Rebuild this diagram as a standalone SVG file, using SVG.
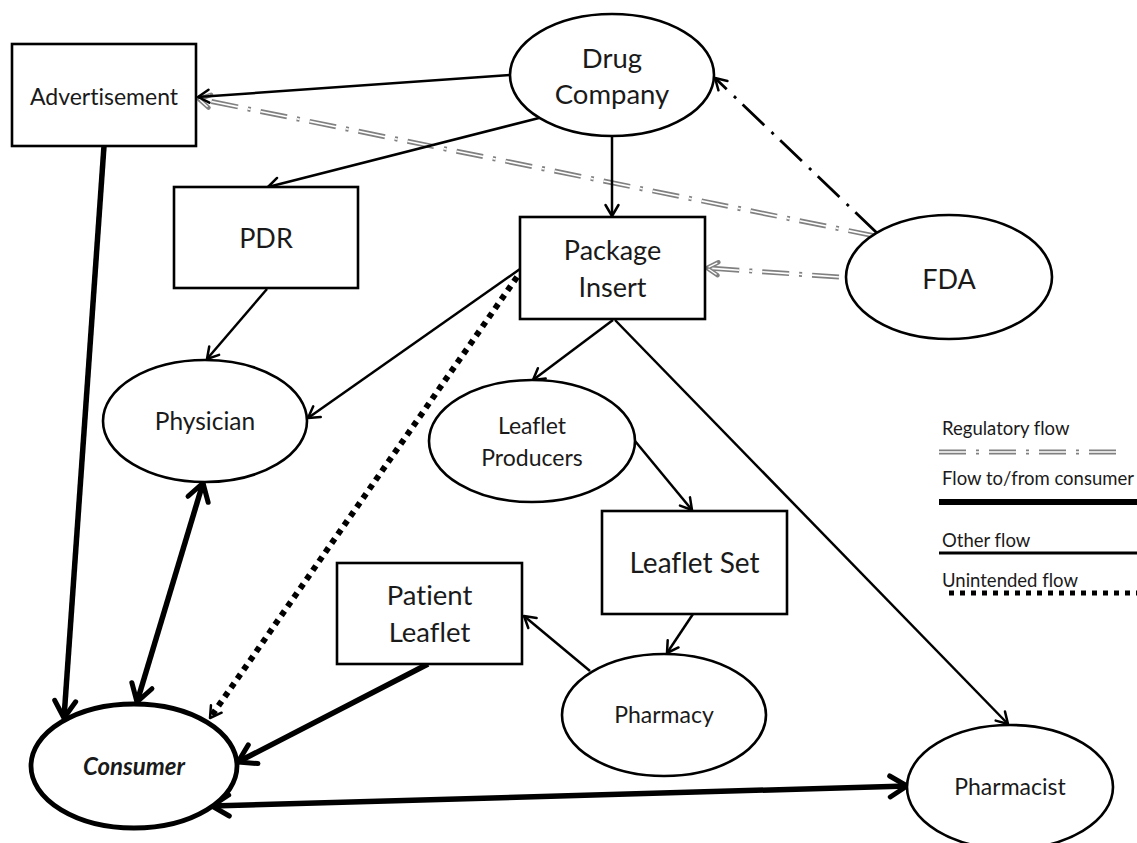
<svg xmlns="http://www.w3.org/2000/svg" width="1137" height="843" viewBox="0 0 1137 843">
<style>
.box{fill:#fff;stroke:#000;stroke-width:2.6}
.ell{fill:#fff;stroke:#000;stroke-width:2.6}
.lbl{font-family:Lato,"Liberation Sans",sans-serif;fill:#1a1a1a;text-anchor:middle;font-variant-ligatures:none}
.leg{font-family:Lato,"Liberation Sans",sans-serif;fill:#1a1a1a;font-size:18.5px;font-variant-ligatures:none}
.thin{fill:none;stroke:#000;stroke-width:2.5;marker-end:url(#ah)}
.thick{fill:none;stroke:#000;stroke-width:5.5;marker-end:url(#ahT)}
.dbl{marker-start:url(#ahT)}
.regO{fill:none;stroke:#808080;stroke-width:5;stroke-dasharray:27 10 3 10}
.regI{fill:none;stroke:#fff;stroke-width:1.6;stroke-dasharray:27 10 3 10}
.dot{fill:none;stroke:#000;stroke-width:6;stroke-dasharray:5.5 5.5}
</style>
<defs>
<marker id="ah" markerUnits="userSpaceOnUse" orient="auto-start-reverse" overflow="visible" markerWidth="1" markerHeight="1" refX="0" refY="0">
<path d="M-11,-6.5 L0,0 L-11,6.5" fill="none" stroke="#000" stroke-width="2.5" stroke-linejoin="round" stroke-linecap="round"/>
</marker>
<marker id="ahT" markerUnits="userSpaceOnUse" orient="auto-start-reverse" overflow="visible" markerWidth="1" markerHeight="1" refX="0" refY="0">
<path d="M-17,-10.5 L0,0 L-17,10.5" fill="none" stroke="#000" stroke-width="5" stroke-linejoin="round" stroke-linecap="round"/>
</marker>
<marker id="ahG" markerUnits="userSpaceOnUse" orient="auto" overflow="visible" markerWidth="1" markerHeight="1" refX="0" refY="0">
<path d="M-11,-6.5 L0,0 L-11,6.5" fill="none" stroke="#808080" stroke-width="4.5" stroke-linejoin="round" stroke-linecap="round"/>
</marker>
<marker id="ahW" markerUnits="userSpaceOnUse" orient="auto" overflow="visible" markerWidth="1" markerHeight="1" refX="0" refY="0">
<path d="M-10,-5.9 L-1.5,-0.9 M-10,5.9 L-1.5,0.9" fill="none" stroke="#fff" stroke-width="1.3"/>
</marker>
</defs>
<rect width="1137" height="843" fill="#fff"/>

<g id="connectors">
<path class="regO" d="M875,236 L199,99" marker-end="url(#ahG)"/>
<path class="regI" d="M875,236 L199,99" marker-end="url(#ahW)"/>
<path class="regO" d="M839,277 L707,268" marker-end="url(#ahG)"/>
<path class="regI" d="M839,277 L707,268" marker-end="url(#ahW)"/>
<path d="M877,233 L715,78" fill="none" stroke="#000" stroke-width="2.8" stroke-dasharray="30 9 3 10" marker-end="url(#ah)"/>
<path class="thin" d="M510,75 L198,97"/>
<path class="thin" d="M539,118 L268,187"/>
<path class="thin" d="M612,137 L612,216"/>
<path class="thin" d="M267,289 L207,359"/>
<path class="thin" d="M520,269 L308,418"/>
<path class="thin" d="M613,320 L533,380"/>
<path class="thin" d="M615,320 L1008,724"/>
<path class="thin" d="M635,441 L692,510"/>
<path class="thin" d="M693,614 L667,653"/>
<path class="thin" d="M590,671 L524,616"/>
<path class="dot" d="M517,277 L210,718" marker-end="url(#ah)"/>
<path class="thick" d="M104,146 L64,718"/>
<path class="thick dbl" d="M203,483 L137,702"/>
<path class="thick" d="M428,664 L238,762"/>
<path class="thick dbl" d="M212,806 L907,786"/>
</g>

<g id="advertisement"><rect class="box" x="12" y="44" width="184" height="102"/><text class="lbl" x="104" y="105" font-size="23">Advertisement</text></g>
<g id="drug-company"><ellipse class="ell" cx="612" cy="75" rx="102" ry="61"/><text class="lbl" x="612" y="68" font-size="27.5">Drug</text><text class="lbl" x="612" y="104" font-size="27.5">Company</text></g>
<g id="pdr"><rect class="box" x="174" y="187" width="184" height="101"/><text class="lbl" x="266" y="248" font-size="27">PDR</text></g>
<g id="package-insert"><rect class="box" x="520" y="217" width="185" height="102"/><text class="lbl" x="612.5" y="260" font-size="27">Package</text><text class="lbl" x="612.5" y="297" font-size="27">Insert</text></g>
<g id="fda"><ellipse class="ell" cx="949" cy="277" rx="103" ry="62"/><text class="lbl" x="949" y="289" font-size="27">FDA</text></g>
<g id="physician"><ellipse class="ell" cx="205" cy="421" rx="102" ry="61"/><text class="lbl" x="205" y="430" font-size="24.5">Physician</text></g>
<g id="leaflet-producers"><ellipse class="ell" cx="532" cy="441" rx="103" ry="61"/><text class="lbl" x="532" y="434" font-size="23">Leaflet</text><text class="lbl" x="532" y="466" font-size="23">Producers</text></g>
<g id="leaflet-set"><rect class="box" x="602" y="511" width="185" height="103"/><text class="lbl" x="694.5" y="573" font-size="28">Leaflet Set</text></g>
<g id="patient-leaflet"><rect class="box" x="337" y="563" width="185" height="101"/><text class="lbl" x="429.5" y="605" font-size="27.5">Patient</text><text class="lbl" x="429.5" y="642" font-size="27.5">Leaflet</text></g>
<g id="pharmacy"><ellipse class="ell" cx="664" cy="715" rx="102" ry="61"/><text class="lbl" x="664" y="723" font-size="23">Pharmacy</text></g>
<g id="pharmacist"><ellipse class="ell" cx="1010" cy="787" rx="103" ry="62"/><text class="lbl" x="1010" y="795" font-size="23">Pharmacist</text></g>
<g id="consumer"><ellipse cx="134" cy="766" rx="103" ry="62" fill="#fff" stroke="#000" stroke-width="4.8"/><text class="lbl" x="134" y="775" font-size="24" font-weight="bold" font-style="italic">Consumer</text></g>

<g id="legend">
<text class="leg" x="942" y="435">Regulatory flow</text>
<path class="regO" d="M939,452 L1123,452"/>
<path class="regI" d="M939,452 L1123,452"/>
<text class="leg" x="942" y="485">Flow to/from consumer</text>
<path d="M939,502 L1137,502" stroke="#000" stroke-width="6"/>
<text class="leg" x="942" y="547">Other flow</text>
<path d="M939,553 L1137,553" stroke="#000" stroke-width="3"/>
<text class="leg" x="942" y="587">Unintended flow</text>
<path d="M949,593 L1137,593" stroke="#000" stroke-width="5" stroke-dasharray="5 6"/>
</g>
</svg>
